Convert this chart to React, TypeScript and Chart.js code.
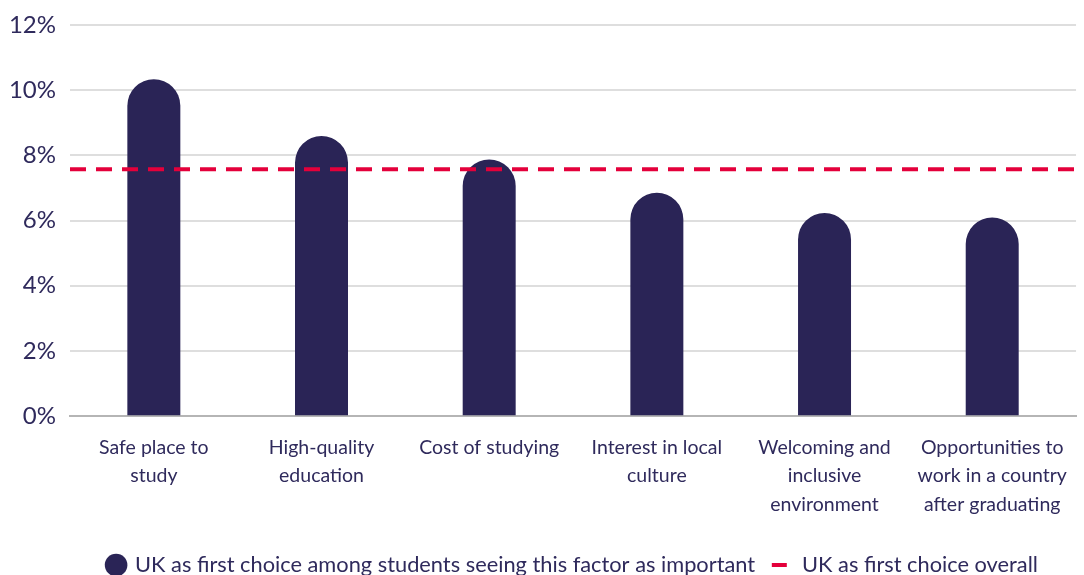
import React, { useEffect, useRef } from "react";
import { Chart, registerables } from "chart.js";

Chart.register(...registerables);

const categories: string[][] = [
  ["Safe place to", "study"],
  ["High-quality", "education"],
  ["Cost of studying"],
  ["Interest in local", "culture"],
  ["Welcoming and", "inclusive", "environment"],
  ["Opportunities to", "work in a country", "after graduating"],
];
const factorValues = [10.33, 8.59, 7.87, 6.85, 6.23, 6.09];
const overallValue = 7.57;
const yTicks = [0, 2, 4, 6, 8, 10, 12];

const NAVY = "#2a2456";
const TEXT = "#2f2a5c";
const RED = "#e4003b";
const FONT = "Lato, 'Open Sans', sans-serif";

export default function App() {
  const ref = useRef<HTMLCanvasElement | null>(null);
  useEffect(() => {
    document.body.style.margin = "0";
    if (!ref.current) return;
    const chart = new Chart(ref.current, {
      type: "bar",
      data: {
        labels: categories,
        datasets: [
          {
            type: "bar",
            label: "UK as first choice among students seeing this factor as important",
            data: factorValues,
            backgroundColor: NAVY,
            borderWidth: 0,
            borderRadius: 999,
            borderSkipped: "start",
            barPercentage: 0.316,
            categoryPercentage: 1,
            grouped: false,
            pointStyle: "circle",
            xAxisID: "x",
            order: 2,
          } as any,
          {
            type: "line",
            label: "UK as first choice overall",
            data: [
              { x: 0, y: overallValue },
              { x: 1, y: overallValue },
            ],
            borderColor: RED,
            backgroundColor: RED,
            borderWidth: 4,
            borderDash: [16, 10],
            pointRadius: 0,
            pointStyle: "line",
            xAxisID: "x2",
            order: 1,
          } as any,
        ],
      },
      options: {
        animation: false,
        responsive: false,
        layout: { padding: { top: 0, right: 1, bottom: -11, left: 0 } },
        plugins: {
          tooltip: { enabled: false },
          legend: {
            position: "bottom",
            fullSize: false,
            labels: {
              usePointStyle: true,
              boxHeight: 16,
              boxWidth: 16,
              padding: 20,
              color: TEXT,
              font: { family: FONT, size: 21.8 },
              sort: (a: any, b: any) => a.datasetIndex - b.datasetIndex,
              generateLabels: (c: any) => {
                const items = Chart.defaults.plugins.legend.labels.generateLabels(c);
                items.forEach((it: any) => {
                  if (it.datasetIndex === 1) {
                    it.lineDash = [15, 100];
                    it.pointStyle = "line";
                    it.lineWidth = 4;
                    it.strokeStyle = RED;
                  }
                });
                return items;
              },
            },
          },
        },
        scales: {
          x: {
            type: "category",
            grid: { display: false, drawTicks: false },
            border: { display: true, color: "#b5b5b5", width: 2 },
            ticks: {
              color: TEXT,
              font: { family: FONT, size: 19.5, lineHeight: 1.46 },
              padding: 17,
              maxRotation: 0,
              autoSkip: false,
            },
            afterFit: (s: any) => {
              s.height = 118;
            },
          },
          x2: {
            type: "linear",
            min: 0,
            max: 1,
            offset: false,
            grid: { offset: false },
            display: false,
          },
          y: {
            min: 0,
            max: 12,
            afterBuildTicks: (s: any) => {
              s.ticks = yTicks.map((v) => ({ value: v }));
            },
            grid: { color: "#dedede", lineWidth: 2, drawTicks: false },
            border: { display: false },
            ticks: {
              color: TEXT,
              font: { family: FONT, size: 24, lineHeight: 0.9 },
              padding: 14,
              callback: (v: any) => v + "%",
            },
            afterFit: (s: any) => {
              s.width = 70;
            },
          },
        },
      } as any,
    });
    return () => chart.destroy();
  }, []);
  return (
    <div style={{ width: 1084, height: 575 }}>
      <canvas ref={ref} width={1084} height={575} style={{ display: "block" }} />
    </div>
  );
}
